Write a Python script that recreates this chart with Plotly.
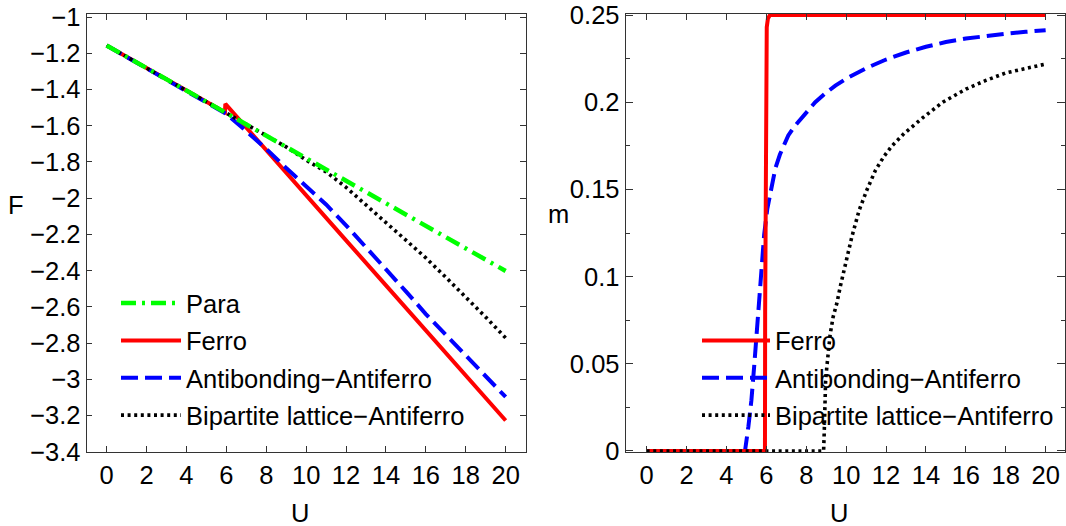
import plotly.graph_objects as go

# ---------------- data ----------------
# Left panel: free energy F versus U
U_para = [0, 2, 4, 6, 8, 10, 12, 14, 16, 18, 20]
F_para = [-1.157, -1.282, -1.406, -1.531, -1.655, -1.780, -1.904, -2.029, -2.153, -2.278, -2.402]

U_ferro_F = [0, 2, 4, 5.93, 5.95, 8, 10, 12, 14, 16, 18, 20]
F_ferro = [-1.157, -1.282, -1.406, -1.525, -1.479, -1.737, -1.985, -2.233, -2.482, -2.730, -2.979, -3.228]

U_anti_F = [0, 2, 4, 5, 6, 7, 8, 9, 10, 11, 12, 13, 14, 15, 16, 17, 18, 19, 20]
F_anti = [-1.157, -1.282, -1.406, -1.468, -1.535, -1.630, -1.728, -1.834, -1.935, -2.035,
          -2.150, -2.270, -2.395, -2.515, -2.640, -2.755, -2.870, -2.985, -3.098]

U_bip_F = [0, 2, 4, 6, 8, 9, 10, 11, 12, 13, 14, 15, 16, 17, 18, 19, 20]
F_bip = [-1.157, -1.282, -1.406, -1.531, -1.655, -1.717, -1.790, -1.855, -1.940, -2.035,
         -2.135, -2.232, -2.330, -2.437, -2.545, -2.657, -2.772]

# Right panel: magnetisation m versus U
U_ferro_m = [0, 5.93, 5.94, 5.96, 5.98, 6.02, 6.08, 6.18, 20]
m_ferro = [0, 0, 0.08, 0.18, 0.225, 0.243, 0.248, 0.25, 0.25]

U_anti_m = [0, 4.93, 5.1, 5.25, 5.4, 5.52, 5.63, 5.76, 5.89, 6.05, 6.22, 6.45, 6.68, 6.9,
            7.1, 7.4, 7.69, 8.05, 8.45, 8.95, 9.46, 10, 11, 12, 13, 14, 15, 16, 17, 18, 19, 20]
m_anti = [0, 0, 0.014, 0.029, 0.05, 0.068, 0.086, 0.106, 0.124, 0.139, 0.15, 0.162, 0.170,
          0.176, 0.181, 0.186, 0.19, 0.195, 0.2, 0.205, 0.2095, 0.2135, 0.2195, 0.2245,
          0.2285, 0.2318, 0.2345, 0.2365, 0.238, 0.2393, 0.2404, 0.2413]

U_bip_m = [0, 8.87, 8.9, 8.93, 8.97, 9.03, 9.1, 9.2, 9.35, 9.54, 9.7, 9.88, 10.08, 10.29,
           10.65, 11.05, 11.47, 11.9, 12.3, 12.9, 13.83, 14.84, 16, 17, 18, 19, 20]
m_bip = [0, 0, 0.01, 0.029, 0.04, 0.048, 0.057, 0.067, 0.077, 0.085, 0.094, 0.103, 0.113,
         0.123, 0.138, 0.15, 0.161, 0.169, 0.175, 0.182, 0.191, 0.2, 0.2075, 0.2125, 0.2168,
         0.2195, 0.2219]

names = ["Para", "Ferro", "Antibonding\u2212Antiferro", "Bipartite lattice\u2212Antiferro"]

# ---------------- styling ----------------
FONT = "Liberation Sans, Arial, Helvetica, sans-serif"
GREEN, RED, BLUE, BLACK = "#00ff00", "#ff0000", "#0000ff", "#000000"
DASH_G = "15px,6px,3px,6px"
DASH_B = "17px,7px"
DASH_K = "3px,3.6px"
FRAME = "#333333"

fig = go.Figure()

# left panel traces (para drawn last so it is on top, legend order via legendrank)
fig.add_trace(go.Scatter(x=U_ferro_F, y=F_ferro, mode="lines", name=names[1],
                         line=dict(color=RED, width=4), legend="legend",
                         legendrank=2, legendgroup="L2", xaxis="x", yaxis="y"))
fig.add_trace(go.Scatter(x=U_anti_F, y=F_anti, mode="lines", name=names[2],
                         line=dict(color=BLUE, width=4, dash=DASH_B), legend="legend",
                         legendrank=3, legendgroup="L3", xaxis="x", yaxis="y"))
fig.add_trace(go.Scatter(x=U_bip_F, y=F_bip, mode="lines", name=names[3],
                         line=dict(color=BLACK, width=3.6, dash=DASH_K), legend="legend",
                         legendrank=4, legendgroup="L4", xaxis="x", yaxis="y"))
fig.add_trace(go.Scatter(x=U_para, y=F_para, mode="lines", name=names[0],
                         line=dict(color=GREEN, width=4.5, dash=DASH_G), legend="legend",
                         legendrank=1, legendgroup="L1", xaxis="x", yaxis="y"))

# right panel traces
fig.add_trace(go.Scatter(x=U_anti_m, y=m_anti, mode="lines", name=names[2],
                         line=dict(color=BLUE, width=4, dash=DASH_B), legend="legend2",
                         legendrank=2, legendgroup="R2", xaxis="x2", yaxis="y2"))
fig.add_trace(go.Scatter(x=U_ferro_m, y=m_ferro, mode="lines", name=names[1],
                         line=dict(color=RED, width=4), legend="legend2",
                         legendrank=1, legendgroup="R1", xaxis="x2", yaxis="y2"))
fig.add_trace(go.Scatter(x=U_bip_m, y=m_bip, mode="lines", name=names[3],
                         line=dict(color=BLACK, width=3.6, dash=DASH_K), legend="legend2",
                         legendrank=3, legendgroup="R3", xaxis="x2", yaxis="y2"))

W, H = 1066, 526
top, bottom = 14, 452

axis_common = dict(showline=True, linecolor=FRAME, linewidth=1.2, mirror="allticks",
                   ticks="inside", tickcolor=FRAME, showgrid=False, zeroline=False,
                   tickfont=dict(family=FONT, size=25.5, color="black"))

fig.update_layout(
    width=W, height=H,
    margin=dict(l=0, r=0, t=top, b=H - bottom),
    paper_bgcolor="white", plot_bgcolor="white",
    font=dict(family=FONT, size=25.5, color="black"),
    xaxis=dict(domain=[86.7 / W, 526 / W], range=[-1.0, 21.02], dtick=2, tick0=0,
               ticklen=5.5, anchor="y", **axis_common),
    yaxis=dict(domain=[0, 1], range=[-3.402, -0.983], dtick=0.2, tick0=-3.4,
               ticklen=5.5, anchor="x", **axis_common),
    xaxis2=dict(domain=[625.7 / W, 1065 / W], range=[-1.05, 20.97], dtick=2, tick0=0,
                ticklen=6, anchor="y2", **axis_common),
    yaxis2=dict(domain=[0, 1], range=[-0.0006, 0.2506], dtick=0.05, tick0=0,
                ticklen=7.5, anchor="x2",
                minor=dict(dtick=0.025, ticks="inside", ticklen=3.7, tickcolor=FRAME),
                **axis_common),
    legend=dict(x=116 / W, y=(bottom - 280) / (bottom - top), xanchor="left", yanchor="top",
                bgcolor="rgba(0,0,0,0)", borderwidth=0, itemwidth=60, tracegroupgap=1.2,
                font=dict(family=FONT, size=25.5, color="black")),
    legend2=dict(x=697 / W, y=(bottom - 317.4) / (bottom - top), xanchor="left", yanchor="top",
                 bgcolor="rgba(0,0,0,0)", borderwidth=0, itemwidth=68, tracegroupgap=1.2,
                 font=dict(family=FONT, size=25.5, color="black")),
    annotations=[
        dict(text="F", x=16 / W, y=(bottom - 205) / (bottom - top), xref="paper", yref="paper",
             showarrow=False, xanchor="center", yanchor="middle", font=dict(size=25.5)),
        dict(text="m", x=558.5 / W, y=(bottom - 214) / (bottom - top), xref="paper", yref="paper",
             showarrow=False, xanchor="center", yanchor="middle", font=dict(size=25.5)),
        dict(text="U", x=300 / W, y=(bottom - 512.5) / (bottom - top), xref="paper", yref="paper",
             showarrow=False, xanchor="center", yanchor="middle", font=dict(size=25.5)),
        dict(text="U", x=839 / W, y=(bottom - 512.5) / (bottom - top), xref="paper", yref="paper",
             showarrow=False, xanchor="center", yanchor="middle", font=dict(size=25.5)),
    ],
)

fig.write_html("out.html", config={"displayModeBar": False},
               post_script="document.body.style.margin='0';")
